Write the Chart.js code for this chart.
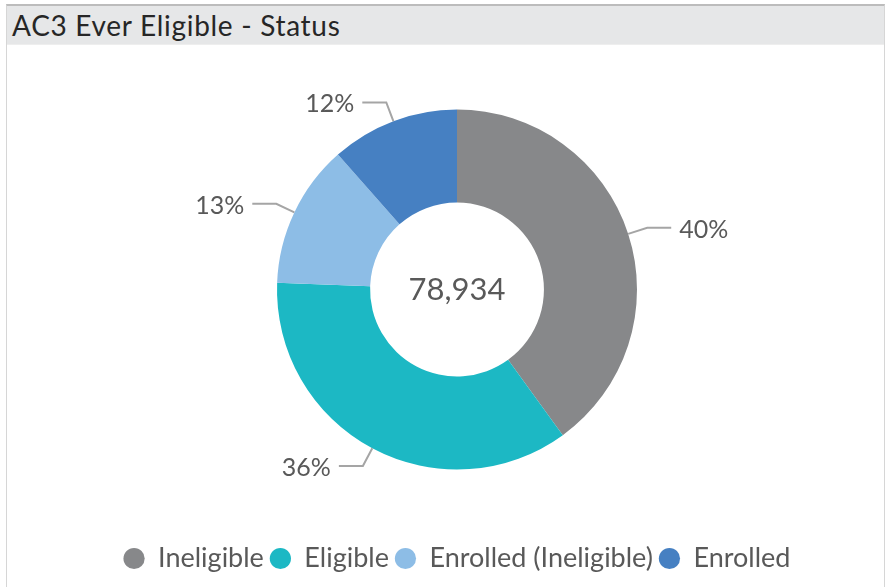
<!DOCTYPE html>
<html>
<head>
<meta charset="utf-8">
<script src="https://cdn.jsdelivr.net/npm/chart.js@4.4.1/dist/chart.umd.min.js"></script>
<style>
  html, body { margin: 0; padding: 0; background: #fff; }
  body { width: 886px; height: 587px; position: relative; overflow: hidden; font-family: Lato, "Open Sans", sans-serif; }
  .panel { position: absolute; left: 6px; top: 4px; width: 877px; height: 590px;
           border-top: 2px solid #bcbcbc; border-left: 1px solid #d6d6d6; border-right: 1px solid #d6d6d6; }
  .head { height: 38px; background: #e6e7e8; border-bottom: 1px solid #eeeeee; }
  .head h1 { margin: 0; padding: 4px 0 0 5px; font-weight: 400; font-size: 28px; color: #262626; line-height: 30px; letter-spacing: 0.7px; }
  #wrap { position: absolute; left: 0; top: 0; width: 886px; height: 587px; }
</style>
</head>
<body>
<div class="panel"><div class="head"><h1>AC3 Ever Eligible - Status</h1></div></div>
<div id="wrap"><canvas id="chartStatus"></canvas></div>
<script>
// So lieu doc tu hinh (tong 78,934)
const categories = ["Ineligible", "Eligible", "Enrolled (Ineligible)", "Enrolled"];
const counts = [31574, 28097, 10183, 9080];
const colors = ["#87888a", "#1cb8c4", "#8dbde6", "#4680c2"];

const total = counts.reduce((a, b) => a + b, 0);

// Nhan % ben ngoai + duong dan
const outLabels = {
  id: "outLabels",
  afterDatasetsDraw(chart) {
    const ctx = chart.ctx;
    const meta = chart.getDatasetMeta(0);
    ctx.save();
    ctx.font = "25px Lato, 'Open Sans', sans-serif";
    ctx.textBaseline = "middle";
    meta.data.forEach((arc, i) => {
      const p = arc.getProps(["x", "y", "startAngle", "endAngle", "outerRadius"], true);
      const mid = (p.startAngle + p.endAngle) / 2;
      const r1 = p.outerRadius, r2 = p.outerRadius + 20;
      const x1 = p.x + Math.cos(mid) * r1, y1 = p.y + Math.sin(mid) * r1;
      const x2 = p.x + Math.cos(mid) * r2, y2 = p.y + Math.sin(mid) * r2;
      const right = Math.cos(mid) >= 0;
      const x3 = x2 + (right ? 24 : -24);
      ctx.strokeStyle = "#a5a5a5";
      ctx.lineWidth = 2;
      ctx.beginPath();
      ctx.moveTo(x1, y1);
      ctx.lineTo(x2, y2);
      ctx.lineTo(x3, y2);
      ctx.stroke();
      const pct = Math.round(counts[i] / total * 100) + "%";
      ctx.fillStyle = "#595959";
      ctx.textAlign = right ? "left" : "right";
      ctx.fillText(pct, x3 + (right ? 8 : -8), y2 + 2);
    });
    // tong o giua
    const c = meta.data[0];
    ctx.font = "31px Lato, 'Open Sans', sans-serif";
    ctx.textAlign = "center";
    ctx.fillText(total.toLocaleString("en-US"), c.x, c.y);
    ctx.restore();
  }
};

new Chart(document.getElementById("chartStatus"), {
  type: "doughnut",
  data: {
    labels: categories,
    datasets: [{
      data: counts,
      backgroundColor: colors,
      borderWidth: 0
    }]
  },
  options: {
    responsive: true,
    maintainAspectRatio: false,
    animation: false,
    radius: 180,
    cutout: "48.3%",
    layout: { padding: { top: 40, left: 28, right: 0, bottom: 5 } },
    plugins: {
      legend: {
        position: "bottom",
        labels: {
          usePointStyle: true,
          pointStyle: "circle",
          boxWidth: 21,
          boxHeight: 15,
          padding: 6,
          color: "#595959",
          font: { family: "Lato, 'Open Sans', sans-serif", size: 27 }
        }
      },
      tooltip: { enabled: false }
    }
  },
  plugins: [outLabels]
});
</script>
</body>
</html>
